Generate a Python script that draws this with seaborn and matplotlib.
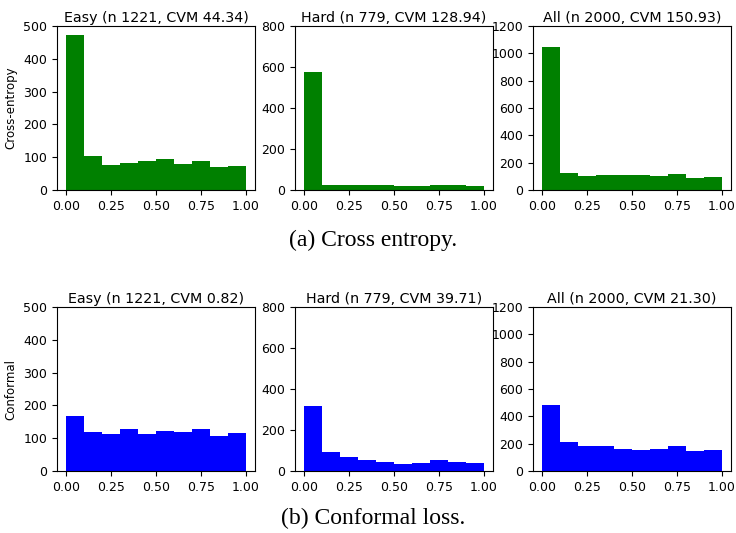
import numpy as np
import matplotlib
matplotlib.use("Agg")
import matplotlib.pyplot as plt
import seaborn as sns

bin_edges = [0.0, 0.1, 0.2, 0.3, 0.4, 0.5, 0.6, 0.7, 0.8, 0.9, 1.0]

ce_easy = [472, 103, 76, 82, 88, 94, 79, 88, 70, 73]
ce_hard = [575, 25, 24, 24, 24, 19, 19, 23, 23, 19]
ce_all = [1045, 123, 102, 108, 108, 108, 102, 115, 88, 93]

cf_easy = [167, 118, 112, 127, 112, 121, 118, 127, 106, 115]
cf_hard = [315, 92, 68, 53, 43, 35, 38, 52, 43, 38]
cf_all = [480, 210, 180, 180, 158, 152, 158, 180, 143, 152]

titles_ce = ["Easy (n 1221, CVM 44.34)", "Hard (n 779, CVM 128.94)", "All (n 2000, CVM 150.93)"]
titles_cf = ["Easy (n 1221, CVM 0.82)", "Hard (n 779, CVM 39.71)", "All (n 2000, CVM 21.30)"]
ylims = [500, 800, 1200]
ysteps = [100, 200, 200]
row_labels = ["Cross-entropy", "Conformal"]
captions = ["(a) Cross entropy.", "(b) Conformal loss."]
xticks = [0.0, 0.25, 0.5, 0.75, 1.0]

W, H = 736, 533
fig = plt.figure(figsize=(W / 100, H / 100), dpi=100)

lefts = [57, 295, 533]
aw, ah = 198, 164
bottoms_px = [190, 471]

rows = [(ce_easy, ce_hard, ce_all), (cf_easy, cf_hard, cf_all)]
colors = ["green", "blue"]
titles = [titles_ce, titles_cf]

centers = [(bin_edges[i] + bin_edges[i + 1]) / 2 for i in range(len(bin_edges) - 1)]

for r in range(2):
    for c in range(3):
        ax = fig.add_axes([lefts[c] / W, 1 - bottoms_px[r] / H, aw / W, ah / H])
        sns.histplot(x=centers, weights=rows[r][c], bins=bin_edges, ax=ax,
                     color=colors[r], alpha=1.0, edgecolor="none", linewidth=0)
        ax.set_xlim(-0.05, 1.05)
        ax.set_ylim(0, ylims[c])
        ax.set_yticks(np.arange(0, ylims[c] + 1, ysteps[c]))
        ax.set_xticks(xticks)
        ax.set_xticklabels(["0.00", "0.25", "0.50", "0.75", "1.00"])
        ax.tick_params(labelsize=9)
        ax.set_title(titles[r][c], fontsize=10.3, pad=3)
        ax.set_xlabel("")
        if c == 0:
            ax.set_ylabel(row_labels[r], fontsize=8.5)
            ax.yaxis.set_label_coords(-0.2, 0.5)
        else:
            ax.set_ylabel("")

fig.text(373 / W, 1 - 240 / H, captions[0], ha="center", va="center",
         family="Liberation Serif", fontsize=17)
fig.text(373 / W, 1 - 518 / H, captions[1], ha="center", va="center",
         family="Liberation Serif", fontsize=17)

fig.savefig("out.png", dpi=100)
